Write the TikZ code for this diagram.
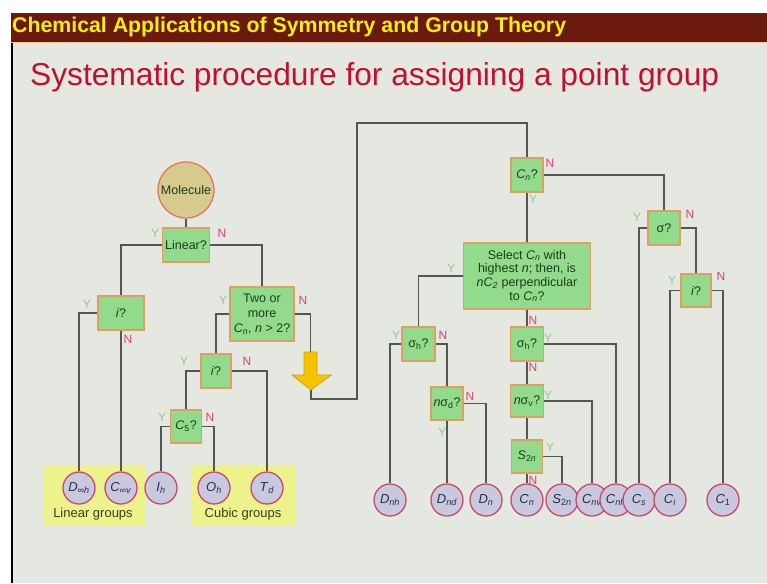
\documentclass[tikz,border=0pt]{standalone}
\usepackage{fontspec}
\setmainfont{Liberation Sans}
\definecolor{slidebg}{HTML}{E5E8E0}
\definecolor{barcol}{HTML}{6C1A0E}
\definecolor{titlecol}{HTML}{F2EE10}
\definecolor{headcol}{HTML}{C01030}
\definecolor{boxfill}{HTML}{92DA8C}
\definecolor{boxborder}{HTML}{DDA062}
\definecolor{boxtext}{HTML}{1A3E1A}
\definecolor{circfill}{HTML}{C8C8DE}
\definecolor{circborder}{HTML}{C84A6A}
\definecolor{circtext}{HTML}{2C2C4C}
\definecolor{molfill}{HTML}{D6CB8C}
\definecolor{molborder}{HTML}{E07860}
\definecolor{linecol}{HTML}{555555}
\definecolor{ycol}{HTML}{8CCB8C}
\definecolor{ncol}{HTML}{D8407A}
\definecolor{groupbg}{HTML}{EEF28A}
\definecolor{grouptext}{HTML}{34401E}
\definecolor{arrowfill}{HTML}{F4C400}
\definecolor{arrowdraw}{HTML}{D8A000}
\newcommand\grp[2]{\textit{#1}\textsubscript{\textit{#2}}}
\tikzset{
  qbox/.style={draw=boxborder, fill=boxfill, line width=1.3pt, inner sep=0pt,
    text=boxtext, font=\fontsize{12.5}{13.7}\selectfont, align=center},
  grpc/.style={circle, draw=circborder, fill=circfill, line width=1.3pt,
    minimum size=32pt, inner sep=0pt, text=circtext, font=\fontsize{13}{13}\selectfont},
  conn/.style={draw=linecol, line width=1.3pt},
  ylab/.style={text=ycol, font=\fontsize{12}{12}\selectfont, inner sep=0pt},
  nlab/.style={text=ncol, font=\fontsize{12}{12}\selectfont, inner sep=0pt},
  grouplab/.style={text=grouptext, font=\fontsize{13}{13}\selectfont, inner sep=0pt}
}
\begin{document}
\begin{tikzpicture}[x=1pt,y=-1pt]
\useasboundingbox (0,0) rectangle (767,583);
% background
\fill[white] (0,0) rectangle (767,583);
\fill[slidebg] (11,13) rectangle (767,583);
\fill[barcol] (11,13) rectangle (767,42);
\draw[color=boxborder!60!white, line width=1pt] (11,42.5) -- (767,42.5);
\draw[black, line width=2pt] (12,43) -- (12,583);
\node[anchor=west, text=titlecol, font=\bfseries\fontsize{21.3}{21.3}\selectfont, inner sep=0pt] (title) at (12,27) {Chemical Applications of Symmetry and Group Theory};
\node[anchor=west, text=headcol, font=\fontsize{31.7}{31.7}\selectfont, inner sep=0pt] (heading) at (30,77) {Systematic procedure for assigning a point group};
% group highlights
\fill[groupbg] (43,465) rectangle (145,525);
\fill[groupbg] (192,465) rectangle (295,525);
\node[grouplab] (lg) at (93,514) {Linear groups};
\node[grouplab] (cg) at (243,514) {Cubic groups};
% left tree
\node[circle, draw=molborder, fill=molfill, line width=1.3pt, minimum size=56pt, inner sep=0pt, text=boxtext, font=\fontsize{12.5}{12.5}\selectfont] (mol) at (186,190) {Molecule};
\node[qbox, minimum width=47pt, minimum height=34pt] (lin) at (186,245) {Linear?};
\node[qbox, minimum width=46pt, minimum height=34pt] (iL) at (121,313) {\textit{i}?};
\node[qbox, minimum width=64pt, minimum height=54pt, font=\fontsize{12.5}{15}\selectfont] (two) at (262,314) {Two or\\more\\\grp{C}{n}, \textit{n} > 2?};
\node[qbox, minimum width=30pt, minimum height=34pt] (iC) at (216,371) {\textit{i}?};
\node[qbox, minimum width=31pt, minimum height=33pt] (c5) at (186,426.5) {\textit{C}\textsubscript{5}?};
\node[grpc] (dinfh) at (79,488) {\grp{D}{∞h}};
\node[grpc] (cinfv) at (121,488) {\grp{C}{∞v}};
\node[grpc] (ih) at (161,488) {\grp{I}{h}};
\node[grpc] (oh) at (214,488) {\grp{O}{h}};
\node[grpc] (td) at (267,488) {\grp{T}{d}};
% arrow
\draw[fill=arrowfill, draw=arrowdraw, line width=0.8pt] (304,352) -- (317,352) -- (317,375) -- (331,375) -- (311,390) -- (292,375) -- (304,375) -- cycle;
\coordinate (arrowtop) at (310.5,352);
\coordinate (arrowtip) at (311,390);
\coordinate (w1) at (357,399);
\coordinate (w2) at (357,123);
% right tree
\node[qbox, minimum width=32pt, minimum height=34pt] (cn) at (527,175) {\grp{C}{n}?};
\node[qbox, minimum width=32pt, minimum height=34pt] (sigma) at (664,228) {σ?};
\node[qbox, minimum width=30pt, minimum height=33pt] (iR) at (696,290.5) {\textit{i}?};
\node[qbox, minimum width=127pt, minimum height=66pt] (sel) at (527,276) {Select \grp{C}{n} with\\highest \textit{n}; then, is\\\textit{n}\grp{C}{2} perpendicular\\to \grp{C}{n}?};
\node[qbox, minimum width=33pt, minimum height=34pt] (sh1) at (418.5,344) {σ\textsubscript{h}?};
\node[qbox, minimum width=32pt, minimum height=33pt] (nsd) at (447,403.5) {\textit{n}σ\textsubscript{d}?};
\node[qbox, minimum width=33pt, minimum height=34pt] (sh2) at (527,344) {σ\textsubscript{h}?};
\node[qbox, minimum width=33pt, minimum height=32pt] (nsv) at (527,401) {\textit{n}σ\textsubscript{v}?};
\node[qbox, minimum width=31pt, minimum height=33pt] (s2n) at (527,456.5) {\textit{S}\textsubscript{2\textit{n}}};
\node[grpc] (dnh) at (390,500) {\grp{D}{nh}};
\node[grpc] (dnd) at (447,500) {\grp{D}{nd}};
\node[grpc] (dn) at (486,500) {\grp{D}{n}};
\node[grpc] (cnc) at (527,500) {\grp{C}{n}};
\node[grpc] (s2nc) at (562,500) {\textit{S}\textsubscript{2\textit{n}}};
\node[grpc] (cnv) at (592,500) {\grp{C}{nv}};
\node[grpc] (cnh) at (616,500) {\grp{C}{nh}};
\node[grpc] (cs) at (639,500) {\grp{C}{s}};
\node[grpc] (ci) at (670,500) {\grp{C}{i}};
\node[grpc] (c1) at (723,500) {\textit{C}\textsubscript{1}};
% connectors
\path[conn] (mol.south) -- (lin.north);
\path[conn] (lin.west) -| (iL.north);
\path[conn] (lin.east) -| (two.north);
\path[conn] (iL.west) -| (dinfh.north);
\path[conn] (iL.south) -- (cinfv.north);
\path[conn] (two.west) -| (iC.north);
\path[conn] (two.east) -| (arrowtop);
\path[conn] (iC.west) -| (c5.north);
\path[conn] (iC.east) -| (td.north);
\path[conn] (c5.west) -| (ih.north);
\path[conn] (c5.east) -| (oh.north);
\path[conn] (arrowtip) |- (w1) -- (w2) -| (cn.north);
\path[conn] (cn.east) -| (sigma.north);
\path[conn] (cn.south) -- (sel.north);
\path[conn] (sigma.west) -| (cs.north);
\path[conn] (sigma.east) -| (iR.north);
\path[conn] (iR.west) -| (ci.north);
\path[conn] (iR.east) -| (c1.north);
\path[conn] (sel.west) -| (sh1.north);
\path[conn] (sel.south) -- (sh2.north);
\path[conn] (sh1.west) -| (dnh.north);
\path[conn] (sh1.east) -| (nsd.north);
\path[conn] (nsd.east) -| (dn.north);
\path[conn] (nsd.south) -- (dnd.north);
\path[conn] (sh2.south) -- (nsv.north);
\path[conn] (sh2.east) -| (cnh.north);
\path[conn] (nsv.south) -- (s2n.north);
\path[conn] (nsv.east) -| (cnv.north);
\path[conn] (s2n.east) -| (s2nc.north);
\path[conn] (s2n.south) -- (cnc.north);
% Y / N labels
\node[ylab] (y1) at (155,233) {Y};
\node[nlab] (n1) at (222,233) {N};
\node[ylab] (y2) at (87,304) {Y};
\node[nlab] (n2) at (128,339) {N};
\node[ylab] (y3) at (223,300) {Y};
\node[nlab] (n3) at (303,300) {N};
\node[ylab] (y4) at (184,361) {Y};
\node[nlab] (n4) at (247,361) {N};
\node[ylab] (y5) at (162,417) {Y};
\node[nlab] (n5) at (210,417) {N};
\node[nlab] (n6) at (550,163) {N};
\node[ylab] (y6) at (533,199) {Y};
\node[ylab] (y7) at (637,217) {Y};
\node[nlab] (n7) at (690,214) {N};
\node[ylab] (y8) at (672,280) {Y};
\node[nlab] (n8) at (721,276) {N};
\node[ylab] (y9) at (451,268) {Y};
\node[ylab] (y10) at (396,335) {Y};
\node[nlab] (n10) at (443,335) {N};
\node[nlab] (n11) at (470,396) {N};
\node[ylab] (y11) at (442,432) {Y};
\node[nlab] (n12) at (533,320) {N};
\node[ylab] (y12) at (548,338) {Y};
\node[nlab] (n13) at (533,367) {N};
\node[ylab] (y13) at (548,395) {Y};
\node[ylab] (y14) at (550,447) {Y};
\node[nlab] (n14) at (533,480) {N};
\end{tikzpicture}
\end{document}
